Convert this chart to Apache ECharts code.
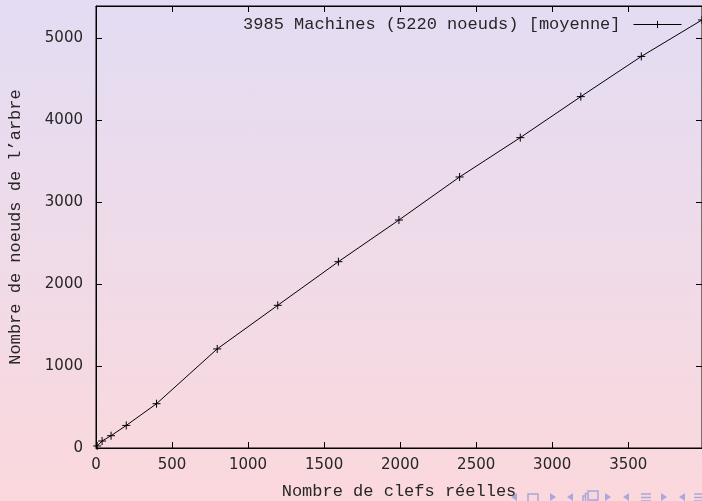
<!DOCTYPE html>
<html>
<head>
<meta charset="utf-8">
<script src="https://cdn.jsdelivr.net/npm/echarts@6/dist/echarts.min.js"></script>
<style>
  html, body { margin: 0; padding: 0; }
  body {
    width: 702px; height: 501px; overflow: hidden;
    background: linear-gradient(to bottom, #e3dcf3 0%, #eedbea 45%, #fbd8dc 100%);
  }
  #chart { width: 702px; height: 501px; }
</style>
</head>
<body>
<div id="chart"></div>
<script>
// Nombre de clefs réelles (x) et nombre moyen de noeuds de l'arbre (y)
const clefs  = [8, 40, 99, 199, 398, 797, 1195, 1594, 1992, 2391, 2790, 3188, 3586, 3985];
const noeuds = [25, 85, 150, 275, 540, 1208, 1740, 2272, 2780, 3305, 3785, 4285, 4775, 5220];
const serieNom = '3985 Machines (5220 noeuds) [moyenne]';
const xTitre = 'Nombre de clefs réelles';
const yTitre = 'Nombre de noeuds de l’arbre';

const points = clefs.map((c, i) => [c, noeuds[i]]);
const plus = 'path://M0,5L10,5M5,0L5,10';
const ink = '#262626';
const mono = '"Liberation Mono", "DejaVu Sans Mono", monospace';
const sans = '"DejaVu Sans", sans-serif';
const plain = v => String(v);

const tickCommon = { show: true, inside: true, length: 6, lineStyle: { color: '#000', width: 1 } };
const lineCommon = { show: true, onZero: false, lineStyle: { color: '#000', width: 1 } };

// Beamer navigation glyphs along the bottom edge
const navColor = '#a8a8da';
const nav = [];
function triR(x) { nav.push({ type: 'polygon', shape: { points: [[x, 493], [x + 6, 497], [x, 501]] }, style: { fill: navColor } }); }
function triL(x) { nav.push({ type: 'polygon', shape: { points: [[x + 6, 493], [x, 497], [x + 6, 501]] }, style: { fill: navColor } }); }
function sq(x) { nav.push({ type: 'rect', shape: { x: x, y: 494, width: 10, height: 10 }, style: { fill: 'none', stroke: navColor, lineWidth: 1.5 } }); }
function stack(x) {
  for (let k = 0; k < 3; k++) nav.push({ type: 'rect', shape: { x: x + k * 2.5, y: 496 - k * 2.5, width: 10, height: 9 }, style: { fill: '#f8d6de', stroke: navColor, lineWidth: 1.5 } });
}
function bars(x) {
  [494, 497.5, 501].forEach(y => nav.push({ type: 'line', shape: { x1: x, y1: y, x2: x + 10, y2: y }, style: { stroke: navColor, lineWidth: 1.5 } }));
}
triL(511); sq(528); triR(550); triL(567); stack(583); triR(605); triL(623); bars(641); triR(661); triL(679); bars(694);

const chart = echarts.init(document.getElementById('chart'), null, { renderer: 'canvas' });
chart.setOption({
  backgroundColor: 'transparent',
  animation: false,
  grid: {
    left: 96, right: 0, top: 6, bottom: 53, outerBoundsMode: 'none', containLabel: false,
    show: true, borderColor: '#000', borderWidth: 1, backgroundColor: 'transparent'
  },
  legend: {
    show: true, top: 11, right: 15, align: 'right', itemWidth: 48, itemHeight: 9,
    data: [{ name: serieNom }],
    lineStyle: { width: 1, color: '#000' },
    itemStyle: { color: '#000', borderColor: '#000', borderWidth: 1 },
    textStyle: { fontFamily: mono, fontSize: 17, color: ink, padding: [0, 8, 0, 0] }
  },
  xAxis: [
    {
      type: 'value', position: 'bottom', min: 0, max: 3985, interval: 500,
      axisLine: lineCommon, axisTick: tickCommon, splitLine: { show: false },
      axisLabel: { showMaxLabel: false, margin: 10, fontFamily: sans, fontSize: 15, color: ink, formatter: plain },
      name: xTitre, nameLocation: 'middle', nameGap: 35,
      nameTextStyle: { fontFamily: mono, fontSize: 17, color: ink }
    },
    {
      type: 'value', position: 'top', min: 0, max: 3985, interval: 500,
      axisLine: lineCommon, axisTick: tickCommon, splitLine: { show: false },
      axisLabel: { show: false }
    }
  ],
  yAxis: [
    {
      type: 'value', position: 'left', min: 0, max: 5390, interval: 1000,
      axisLine: lineCommon, axisTick: tickCommon, splitLine: { show: false },
      axisLabel: { showMaxLabel: false, margin: 13, fontFamily: sans, fontSize: 15, color: ink, formatter: plain },
      name: yTitre, nameLocation: 'middle', nameGap: 72, nameRotate: 90,
      nameTextStyle: { fontFamily: mono, fontSize: 17, color: ink }
    },
    {
      type: 'value', position: 'right', min: 0, max: 5390, interval: 1000,
      axisLine: lineCommon, axisTick: tickCommon, splitLine: { show: false },
      axisLabel: { show: false }
    }
  ],
  series: [{
    name: serieNom, type: 'line', data: points,
    xAxisIndex: 0, yAxisIndex: 0,
    symbol: plus, symbolSize: 8, showSymbol: true,
    lineStyle: { color: '#000', width: 1 },
    itemStyle: { color: '#000', borderColor: '#000', borderWidth: 1 },
    clip: false
  }],
  graphic: nav
});
</script>
</body>
</html>
